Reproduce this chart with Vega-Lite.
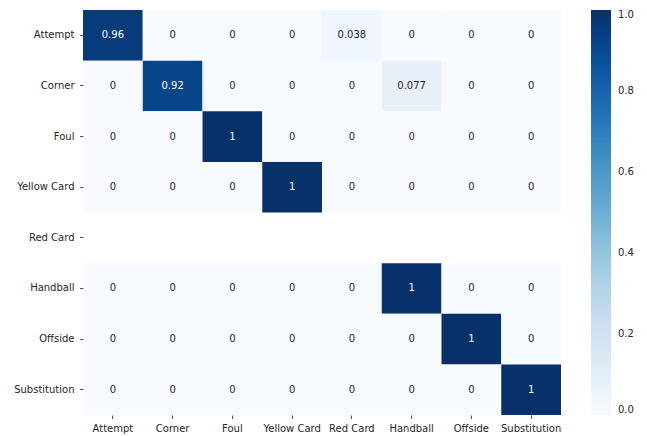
{
  "$schema": "https://vega.github.io/schema/vega-lite/v6.json",
  "width": 478,
  "height": 405,
  "autosize": "none",
  "padding": {"left": 83, "top": 10, "right": 86, "bottom": 21},
  "background": "white",
  "config": {
    "font": "DejaVu Sans",
    "view": {"stroke": null},
    "axis": {"labelFont": "DejaVu Sans", "labelFontSize": 10, "labelColor": "#262626", "tickColor": "#262626", "tickSize": 3.5, "tickWidth": 0.8, "domain": false, "grid": false, "title": null}
  },
  "data": {"values": [
    {"actual": "Attempt", "predicted": "Attempt", "value": 0.96},
    {"actual": "Attempt", "predicted": "Corner", "value": 0},
    {"actual": "Attempt", "predicted": "Foul", "value": 0},
    {"actual": "Attempt", "predicted": "Yellow Card", "value": 0},
    {"actual": "Attempt", "predicted": "Red Card", "value": 0.038},
    {"actual": "Attempt", "predicted": "Handball", "value": 0},
    {"actual": "Attempt", "predicted": "Offside", "value": 0},
    {"actual": "Attempt", "predicted": "Substitution", "value": 0},
    {"actual": "Corner", "predicted": "Attempt", "value": 0},
    {"actual": "Corner", "predicted": "Corner", "value": 0.92},
    {"actual": "Corner", "predicted": "Foul", "value": 0},
    {"actual": "Corner", "predicted": "Yellow Card", "value": 0},
    {"actual": "Corner", "predicted": "Red Card", "value": 0},
    {"actual": "Corner", "predicted": "Handball", "value": 0.077},
    {"actual": "Corner", "predicted": "Offside", "value": 0},
    {"actual": "Corner", "predicted": "Substitution", "value": 0},
    {"actual": "Foul", "predicted": "Attempt", "value": 0},
    {"actual": "Foul", "predicted": "Corner", "value": 0},
    {"actual": "Foul", "predicted": "Foul", "value": 1},
    {"actual": "Foul", "predicted": "Yellow Card", "value": 0},
    {"actual": "Foul", "predicted": "Red Card", "value": 0},
    {"actual": "Foul", "predicted": "Handball", "value": 0},
    {"actual": "Foul", "predicted": "Offside", "value": 0},
    {"actual": "Foul", "predicted": "Substitution", "value": 0},
    {"actual": "Yellow Card", "predicted": "Attempt", "value": 0},
    {"actual": "Yellow Card", "predicted": "Corner", "value": 0},
    {"actual": "Yellow Card", "predicted": "Foul", "value": 0},
    {"actual": "Yellow Card", "predicted": "Yellow Card", "value": 1},
    {"actual": "Yellow Card", "predicted": "Red Card", "value": 0},
    {"actual": "Yellow Card", "predicted": "Handball", "value": 0},
    {"actual": "Yellow Card", "predicted": "Offside", "value": 0},
    {"actual": "Yellow Card", "predicted": "Substitution", "value": 0},
    {"actual": "Handball", "predicted": "Attempt", "value": 0},
    {"actual": "Handball", "predicted": "Corner", "value": 0},
    {"actual": "Handball", "predicted": "Foul", "value": 0},
    {"actual": "Handball", "predicted": "Yellow Card", "value": 0},
    {"actual": "Handball", "predicted": "Red Card", "value": 0},
    {"actual": "Handball", "predicted": "Handball", "value": 1},
    {"actual": "Handball", "predicted": "Offside", "value": 0},
    {"actual": "Handball", "predicted": "Substitution", "value": 0},
    {"actual": "Offside", "predicted": "Attempt", "value": 0},
    {"actual": "Offside", "predicted": "Corner", "value": 0},
    {"actual": "Offside", "predicted": "Foul", "value": 0},
    {"actual": "Offside", "predicted": "Yellow Card", "value": 0},
    {"actual": "Offside", "predicted": "Red Card", "value": 0},
    {"actual": "Offside", "predicted": "Handball", "value": 0},
    {"actual": "Offside", "predicted": "Offside", "value": 1},
    {"actual": "Offside", "predicted": "Substitution", "value": 0},
    {"actual": "Substitution", "predicted": "Attempt", "value": 0},
    {"actual": "Substitution", "predicted": "Corner", "value": 0},
    {"actual": "Substitution", "predicted": "Foul", "value": 0},
    {"actual": "Substitution", "predicted": "Yellow Card", "value": 0},
    {"actual": "Substitution", "predicted": "Red Card", "value": 0},
    {"actual": "Substitution", "predicted": "Handball", "value": 0},
    {"actual": "Substitution", "predicted": "Offside", "value": 0},
    {"actual": "Substitution", "predicted": "Substitution", "value": 1}
  ]},
  "encoding": {
    "x": {"field": "predicted", "type": "nominal",
      "scale": {"domain": ["Attempt", "Corner", "Foul", "Yellow Card", "Red Card", "Handball", "Offside", "Substitution"], "paddingInner": 0, "paddingOuter": 0},
      "axis": {"labelAngle": 0, "orient": "bottom", "labelPadding": 5}},
    "y": {"field": "actual", "type": "nominal",
      "scale": {"domain": ["Attempt", "Corner", "Foul", "Yellow Card", "Red Card", "Handball", "Offside", "Substitution"], "paddingInner": 0, "paddingOuter": 0},
      "axis": {"labelPadding": 5.5}}
  },
  "layer": [
    {
      "mark": {"type": "rect"},
      "encoding": {
        "color": {"field": "value", "type": "quantitative",
          "scale": {"domain": [0, 0.125, 0.25, 0.375, 0.5, 0.625, 0.75, 0.875, 1],
            "range": ["#f7fbff", "#deebf7", "#c6dbef", "#9ecae1", "#6baed6", "#4292c6", "#2171b5", "#08519c", "#08306b"],
            "interpolate": "rgb"},
          "legend": {"title": null, "orient": "none", "legendX": 508, "legendY": 0, "direction": "vertical",
            "gradientLength": 405, "gradientThickness": 20, "gradientStrokeWidth": 0,
            "values": [0, 0.2, 0.4, 0.6, 0.8, 1], "format": ".1f",
            "labelFont": "DejaVu Sans", "labelFontSize": 10, "labelColor": "#262626", "labelOffset": 7, "labelBaseline": "middle", "labelOverlap": false}}
      }
    },
    {
      "mark": {"type": "text", "font": "DejaVu Sans", "fontSize": 10},
      "encoding": {
        "text": {"field": "value", "type": "quantitative", "format": ".2~g"},
        "color": {"condition": {"test": "datum.value > 0.5", "value": "white"}, "value": "#262626"}
      }
    }
  ]
}
